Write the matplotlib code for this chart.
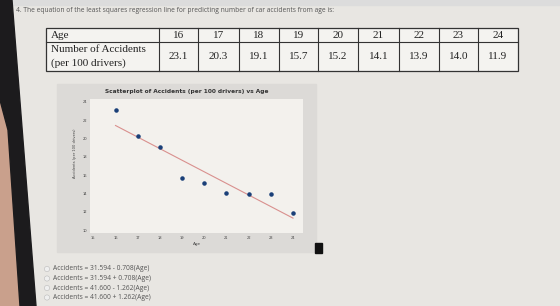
import numpy as np
import matplotlib
matplotlib.use("Agg")
import matplotlib.pyplot as plt
from matplotlib.patches import Rectangle, Polygon, Circle

# Data from the table
ages = [16, 17, 18, 19, 20, 21, 22, 23, 24]
accidents = [23.1, 20.3, 19.1, 15.7, 15.2, 14.1, 13.9, 14.0, 11.9]
x_ticks = [15, 16, 17, 18, 19, 20, 21, 22, 23, 24]
y_ticks = [10, 12, 14, 16, 18, 20, 22, 24]
options = [
    "Accidents = 31.594 - 0.708(Age)",
    "Accidents = 31.594 + 0.708(Age)",
    "Accidents = 41.600 - 1.262(Age)",
    "Accidents = 41.600 + 1.262(Age)",
]
question = "4. The equation of the least squares regression line for predicting number of car accidents from age is:"

W, H = 560, 306
fig = plt.figure(figsize=(W / 100, H / 100), dpi=100)

# Page background in pixel coordinates
bg = fig.add_axes([0, 0, 1, 1])
bg.set_xlim(0, W)
bg.set_ylim(H, 0)
bg.axis("off")
bg.add_patch(Rectangle((0, 0), W, H, color="#e8e6e2"))
bg.add_patch(Rectangle((0, 0), W, 5, color="#dcdcdc"))
# photo edge: paper and bezel on the left
bg.add_patch(Polygon([(0, 100), (8, 130), (20, 306), (0, 306)], color="#c9a08c"))
bg.add_patch(Polygon([(0, 0), (12, 0), (36, 306), (20, 306), (8, 130), (0, 100)], color="#1c1b1d"))

# Question text
bg.text(16, 11, question, fontsize=4.8, color="#555555", va="center", family="Open Sans")

# Table
cols = [46, 159, 198, 239, 279, 318, 358, 399, 439, 478, 518]
rows = [28, 42, 71]
bg.add_patch(Rectangle((cols[0], rows[0]), cols[-1] - cols[0], rows[-1] - rows[0],
                       facecolor="#f4f3f0", edgecolor="#333333", lw=0.9))
for r in rows[1:-1]:
    bg.plot([cols[0], cols[-1]], [r, r], color="#333333", lw=0.8)
for c in cols[1:-1]:
    bg.plot([c, c], [rows[0], rows[-1]], color="#333333", lw=0.8)
serif = "Liberation Serif"
bg.text(cols[0] + 5, (rows[0] + rows[1]) / 2, "Age", fontsize=8, family=serif,
        va="center", color="#222222")
bg.text(cols[0] + 5, 50, "Number of Accidents", fontsize=8, family=serif,
        va="center", color="#222222")
bg.text(cols[0] + 5, 63, "(per 100 drivers)", fontsize=8, family=serif,
        va="center", color="#222222")
for i, (a, v) in enumerate(zip(ages, accidents)):
    cx = (cols[i + 1] + cols[i + 2]) / 2
    bg.text(cx, (rows[0] + rows[1]) / 2, str(a), fontsize=8, family=serif,
            ha="center", va="center", color="#222222")
    bg.text(cx, (rows[1] + rows[2]) / 2, f"{v:.1f}", fontsize=8, family=serif,
            ha="center", va="center", color="#222222")

# Scatterplot panel
bg.add_patch(Rectangle((57, 84), 316 - 57, 252 - 84, color="#dcdad7"))
bg.text(187, 92, "Scatterplot of Accidents (per 100 drivers) vs Age", fontsize=4.2,
        fontweight="bold", ha="center", va="center", color="#333333")
bg.text(197, 244, "Age", fontsize=3, ha="center", va="center", color="#444444")
bg.text(75, 153, "Accidents (per 100 drivers)", fontsize=2.6, rotation=90,
        ha="center", va="center", color="#444444")
bg.add_patch(Rectangle((315, 243), 7, 10, color="#111111"))

ax = fig.add_axes([90 / W, (H - 233) / H, (303 - 90) / W, (233 - 99) / H])
ax.set_facecolor("#f3f1ed")
for s in ax.spines.values():
    s.set_visible(False)
ax.scatter(ages, accidents, s=5, color="#1a3f78", zorder=3)
slope, intercept = np.polyfit(ages, accidents, 1)
xl = np.array([ages[0], ages[-1]])
ax.plot(xl, intercept + slope * xl, color="#d9908e", lw=0.8)
ax.set_xlim(14.85, 24.45)
ax.set_ylim(9.7, 24.3)
ax.set_xticks(x_ticks)
ax.set_yticks(y_ticks)
ax.tick_params(length=0, labelsize=2.6, labelcolor="#444444", pad=2)

# Answer options
for i, opt in enumerate(options):
    y = 269 + i * 9.5
    bg.add_patch(Circle((47, y), 2.6, facecolor="#efefef", edgecolor="#bbbbbb", lw=0.4))
    bg.text(53, y, opt, fontsize=4.8, color="#555555", va="center", family="Open Sans")

fig.savefig("out.png", dpi=100)
